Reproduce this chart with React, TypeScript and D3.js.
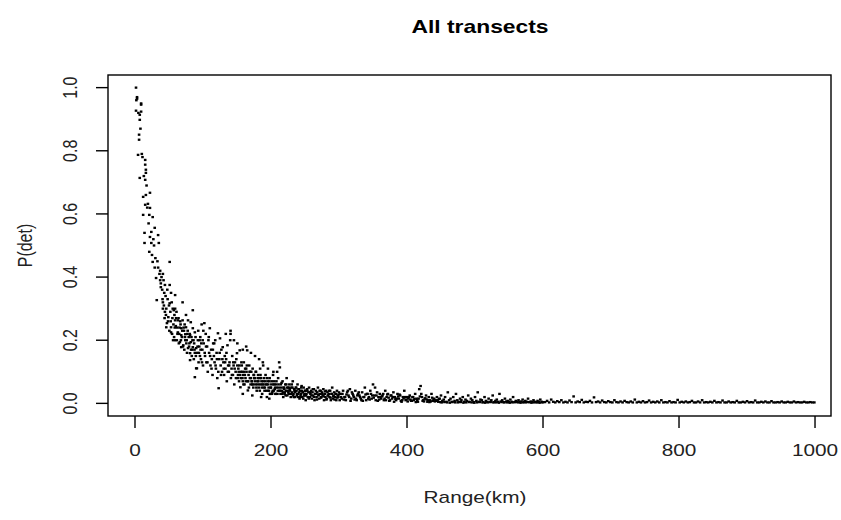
import React from "react";
import * as d3 from "d3";

// ---- data (range in km, detection probability) ----
const nearRange: [number, number][] = [
  [1.5,1.0],[1.5,0.927],[2,0.96],[3,0.97],[3,0.965],[4.5,0.787],[5,0.92],[6,0.851],[6,0.835],[7,0.914],
  [7,0.898],[7,0.714],[8,0.87],[9,0.95],[9,0.946],[9,0.924],[10,0.79],[11,0.78],[12,0.654],[12,0.597],
  [13,0.72],[14,0.54],[14,0.508],[15,0.771],[15,0.756],[15,0.708],[15,0.629],[16,0.74],[16,0.73],[16,0.66],
  [17,0.69],[18,0.62],[19,0.632],[20,0.57],[21,0.597],[21,0.48],[22,0.667],[22,0.619],[22,0.527],[24,0.543],
  [24,0.508],[25,0.47],[26,0.59],[26,0.448],[27,0.52],[28,0.5],[29,0.556],[29,0.43],[30,0.46],[31,0.397],
  [32,0.327],[33,0.45],[34,0.533],[34,0.43],[35,0.508],[36,0.41],[37,0.42],[37,0.39],[38,0.38],[38,0.368],
  [39,0.4],[40,0.36],[41,0.41],[41,0.32],[41,0.3],[42,0.39],[43,0.35],[44,0.375],[44,0.29],[45,0.34],
  [46,0.3],[46,0.241],[47,0.254],[48,0.33],[49,0.273],[50,0.31],[51,0.448],[51,0.375],[51,0.317],[52,0.29],
  [53,0.35],[53,0.241],[53,0.225],[54,0.32],[55,0.27],[56,0.2],[57,0.295],[58,0.28],[59,0.343],[59,0.3],
  [59,0.263],[59,0.2],[60,0.245],[61,0.29],[62,0.24],[63,0.263],[63,0.225],[64,0.27],[65,0.22],[66,0.194],
  [67,0.25],[68,0.238],[68,0.216],[68,0.178],[69,0.21],[70,0.32],[70,0.263],[71,0.184],[72,0.23],[73,0.25],
  [74,0.219],[74,0.2],[75,0.28],[75,0.241],[76,0.2],[77,0.22],[78,0.263],[78,0.175],[79,0.21],[80,0.19],
  [81,0.216],[81,0.159],[81,0.137],[82,0.257],[82,0.194],[83,0.21],[84,0.17],[85,0.295],[85,0.238],[85,0.178],
  [86,0.2],[87,0.19],[88,0.225],[88,0.16],[88,0.083],[89,0.21],[90,0.175],[90,0.111],[91,0.111],[92,0.18],
  [93,0.23],[94,0.16],[95,0.2],
];

const nearExtra: [number, number][] = [
  [40.5,0.33],[42.5,0.31],[43.5,0.27],[45.5,0.28],[47.5,0.36],[48.5,0.26],[50.5,0.23],[52.5,0.26],[54.5,0.22],[55.5,0.3],
  [56.5,0.25],[57.5,0.21],[58.5,0.24],[60.5,0.27],[61.5,0.2],[62.5,0.22],[64.5,0.19],[65.5,0.24],[66.5,0.26],[67.5,0.2],
  [69.5,0.23],[70.5,0.18],[71.5,0.24],[72.5,0.17],[73.5,0.21],[75.5,0.19],[76.5,0.16],[77.5,0.23],[79.5,0.18],[80.5,0.22],
  [82.5,0.17],[83.5,0.15],[84.5,0.2],[86.5,0.14],[87.5,0.17],[89.5,0.15],[91.5,0.16],[92.5,0.2],[93.5,0.13],[94.5,0.18],
  [95.5,0.15],[96.5,0.17],[97.5,0.19],[98.5,0.13],[99.5,0.2],
];

const bendRange: [number, number][] = [
  [96,0.21],[97,0.14],[98,0.25],[99,0.17],[100,0.12],[101,0.19],[102,0.254],[103,0.15],[104,0.22],[105,0.13],
  [106,0.18],[107,0.1],[108,0.2],[109,0.16],[110,0.238],[111,0.12],[112,0.17],[113,0.14],[114,0.09],[115,0.19],
  [116,0.15],[117,0.13],[118,0.2],[119,0.11],[120,0.16],[121,0.08],[122,0.222],[123,0.048],[124,0.14],[125,0.206],
  [126,0.12],[127,0.17],[128,0.1],[129,0.178],[130,0.13],[131,0.09],[132,0.15],[133,0.11],[134,0.14],[135,0.07],
  [136,0.184],[137,0.12],[138,0.1],[139,0.13],[140,0.2],[141,0.08],[142,0.11],[143,0.15],[144,0.09],[145,0.12],
  [146,0.06],[147,0.13],[148,0.1],[149,0.14],[150,0.159],[151,0.08],[152,0.11],[153,0.07],[154,0.168],[155,0.051],
  [156,0.1],[157,0.12],[158,0.08],[159,0.09],[160,0.13],[161,0.06],[162,0.11],[163,0.07],[164,0.1],[165,0.168],
  [166,0.041],[167,0.09],[168,0.12],[169,0.08],[170,0.06],[171,0.1],[172,0.07],[173,0.11],[174,0.05],[175,0.09],
  [176,0.08],[177,0.06],[178,0.1],[179,0.04],[180,0.07],[181,0.09],[182,0.05],[183,0.08],[184,0.11],[185,0.06],
  [186,0.07],[187,0.03],[188,0.13],[189,0.06],[190,0.08],[191,0.05],[192,0.09],[193,0.04],[194,0.02],[195,0.07],
  [196,0.06],[197,0.04],[198,0.08],[199,0.03],[200,0.05],[201,0.07],[202,0.035],[203,0.09],[204,0.04],[205,0.06],
  [206,0.05],[207,0.03],[208,0.07],[209,0.1],[210,0.04],[211,0.06],[212,0.13],[213,0.114],[214,0.03],[215,0.05],
  [216,0.04],[217,0.07],[218,0.02],[219,0.05],[220,0.03],[221,0.06],[222,0.04],[223,0.08],[224,0.025],[225,0.05],
  [226,0.03],[227,0.06],[228,0.04],[229,0.02],[230,0.05],[231,0.035],[232,0.07],[233,0.03],[234,0.045],[235,0.02],
  [236,0.04],[237,0.05],[238,0.025],[239,0.06],[240,0.03],[241,0.045],[242,0.015],[243,0.04],[244,0.03],[245,0.055],
  [246,0.02],[247,0.035],[248,0.05],[249,0.025],[250,0.04],[251,0.01],[252,0.03],[253,0.045],[254,0.02],[255,0.035],
  [256,0.05],[257,0.02],[258,0.03],[259,0.04],[260,0.015],[261,0.035],[262,0.025],[263,0.045],[264,0.01],[265,0.03],
  [266,0.04],[267,0.02],[268,0.035],[269,0.05],[270,0.025],[271,0.015],[272,0.03],[273,0.04],[274,0.02],[275,0.035],
  [276,0.025],[277,0.045],[278,0.01],[279,0.03],[280,0.02],[281,0.04],[282,0.015],[283,0.035],[284,0.025],[285,0.03],
  [286,0.02],[287,0.04],[288,0.01],[289,0.03],[290,0.05],[291,0.015],[292,0.025],[293,0.035],[294,0.02],[295,0.03],
  [296,0.01],[297,0.04],[298,0.025],[299,0.02],[300,0.035],
];

const bendExtra: [number, number][] = [
  [100.5,0.23],[102.5,0.16],[104.5,0.18],[106.5,0.13],[108.5,0.21],[110.5,0.15],[112.5,0.11],[114.5,0.17],
  [116.5,0.19],[118.5,0.12],[120.5,0.14],[122.5,0.1],[124.5,0.16],[126.5,0.09],[128.5,0.14],[130.5,0.11],
  [132.5,0.13],[134.5,0.16],[136.5,0.1],[138.5,0.12],[140.5,0.22],[142.5,0.09],[144.5,0.13],[146.5,0.11],
  [148.5,0.08],[150.5,0.12],[152.5,0.1],[154.5,0.09],[156.5,0.13],[158.5,0.07],[160.5,0.1],[162.5,0.08],
  [164.5,0.12],[166.5,0.07],[168.5,0.1],[170.5,0.08],[172.5,0.06],[174.5,0.09],[176.5,0.07],[178.5,0.05],
  [180.5,0.08],[182.5,0.06],[184.5,0.09],[186.5,0.05],[188.5,0.07],[190.5,0.04],[192.5,0.06],[194.5,0.08],
  [196.5,0.05],[198.5,0.03],[200.5,0.06],[202.5,0.04],[204.5,0.07],[206.5,0.03],[208.5,0.05],[210.5,0.08],
  [212.5,0.04],[214.5,0.06],[216.5,0.03],[218.5,0.05],[220.5,0.035],[222.5,0.06],[224.5,0.04],[226.5,0.05],
  [228.5,0.03],[230.5,0.06],[232.5,0.025],[234.5,0.04],[236.5,0.05],[238.5,0.03],[240.5,0.045],[242.5,0.02],
  [244.5,0.05],[246.5,0.035],[248.5,0.025],[250.5,0.04],
  [151.5,0.09],[153.5,0.12],[155.5,0.08],[157.5,0.1],[159.5,0.06],[161.5,0.09],[163.5,0.11],[165.5,0.07],
  [167.5,0.05],[169.5,0.1],[171.5,0.07],[173.5,0.06],[175.5,0.08],[177.5,0.1],[179.5,0.06],[181.5,0.07],
  [183.5,0.04],[185.5,0.08],[187.5,0.06],[189.5,0.05],[191.5,0.07],[193.5,0.06],[195.5,0.04],[197.5,0.07],
  [199.5,0.05],[201.5,0.03],[203.5,0.06],[205.5,0.045],[207.5,0.06],[209.5,0.03],[211.5,0.05],[213.5,0.04],
  [215.5,0.065],[217.5,0.035],[219.5,0.045],[221.5,0.025],[223.5,0.05],[225.5,0.035],[227.5,0.045],[229.5,0.03],
  [231.5,0.05],[233.5,0.02],[235.5,0.035],[237.5,0.04],[239.5,0.02],[241.5,0.035],[243.5,0.025],[245.5,0.04],
  [247.5,0.015],[249.5,0.03],
  [251.5,0.025],[253.5,0.04],[255.5,0.015],[257.5,0.035],[259.5,0.025],[261.5,0.045],[263.5,0.02],[265.5,0.03],
  [267.5,0.012],[269.5,0.028],[271.5,0.04],[273.5,0.018],[275.5,0.03],[277.5,0.022],[279.5,0.038],[281.5,0.012],
  [283.5,0.025],[285.5,0.04],[287.5,0.018],[289.5,0.03],[291.5,0.022],[293.5,0.012],[295.5,0.03],[297.5,0.018],
  [299.5,0.028],
  [133.5,0.22],[140.5,0.23],[145.5,0.2],[150.5,0.19],[158.5,0.17],[163.5,0.18],[170.5,0.16],[176.5,0.15],
  [182.5,0.14],[188.5,0.12],[195.5,0.11],[203.5,0.1],[158.5,0.03],[172.5,0.025],[185.5,0.02],[197.5,0.015],
];

const midRange: [number, number][] = [
  [302,0.03],[304,0.015],[306,0.04],[308,0.02],[310,0.01],[312,0.035],[314,0.025],[316,0.045],[318,0.015],[320,0.03],
  [322,0.02],[324,0.04],[326,0.01],[328,0.03],[330,0.025],[332,0.015],[334,0.035],[336,0.02],[338,0.05],[340,0.01],
  [342,0.03],[344,0.02],[346,0.04],[348,0.015],[350,0.06],[352,0.025],[354,0.01],[356,0.035],[358,0.02],[360,0.03],
  [362,0.015],[364,0.025],[366,0.01],[368,0.04],[370,0.02],[372,0.03],[374,0.008],[376,0.025],[378,0.015],[380,0.035],
  [382,0.02],[384,0.01],[386,0.03],[388,0.015],[390,0.025],[392,0.005],[394,0.02],[396,0.04],[398,0.01],[400,0.02],
  [402,0.015],[404,0.025],[406,0.008],[408,0.02],[410,0.01],[412,0.03],[414,0.015],[416,0.005],[418,0.045],[420,0.055],
  [422,0.02],[424,0.01],[426,0.015],[428,0.025],[430,0.005],[432,0.02],[434,0.01],[436,0.03],[438,0.008],[440,0.015],
  [442,0.01],[444,0.02],[446,0.005],[448,0.015],[450,0.025],[452,0.008],[454,0.012],[456,0.02],[458,0.005],[460,0.035],
  [462,0.01],[464,0.015],[466,0.005],[468,0.02],[470,0.008],[472,0.03],[474,0.01],[476,0.005],[478,0.015],[480,0.01],
  [482,0.02],[484,0.005],[486,0.012],[488,0.008],[490,0.025],[492,0.005],[494,0.015],[496,0.01],[498,0.004],[500,0.02],
  [502,0.008],[504,0.035],[506,0.005],[508,0.012],[510,0.01],[512,0.004],[514,0.02],[516,0.008],[518,0.005],[520,0.015],
  [522,0.005],[524,0.01],[526,0.025],[528,0.004],[530,0.008],[532,0.012],[534,0.005],[536,0.03],[538,0.006],[540,0.01],
  [542,0.004],[544,0.015],[546,0.006],[548,0.008],[550,0.004],[552,0.012],[554,0.005],[556,0.02],[558,0.004],[560,0.008],
  [562,0.005],[564,0.01],[566,0.004],[568,0.006],[570,0.012],[572,0.004],[574,0.008],[576,0.005],[578,0.015],[580,0.004],
  [582,0.006],[584,0.004],[586,0.01],[588,0.005],[590,0.004],[592,0.008],[594,0.004],[596,0.012],[598,0.005],[600,0.004],
];

const midExtra: [number, number][] = [
  [301,0.01],[305,0.03],[309,0.02],[313,0.04],[317,0.008],[321,0.025],[325,0.015],[329,0.035],[333,0.01],[337,0.02],
  [341,0.03],[345,0.012],[349,0.025],[353,0.05],[357,0.008],[361,0.02],[365,0.03],[369,0.01],[373,0.018],[377,0.025],
  [381,0.005],[385,0.015],[389,0.028],[393,0.01],[397,0.02],[401,0.006],[405,0.012],[409,0.02],[413,0.004],[417,0.015],
  [421,0.03],[425,0.006],[429,0.012],[433,0.004],[437,0.018],[441,0.006],[445,0.01],[449,0.004],
  [303,0.02],[307,0.012],[311,0.028],[315,0.02],[319,0.035],[323,0.012],[327,0.025],[331,0.02],[335,0.008],[339,0.028],
  [343,0.015],[347,0.03],[351,0.018],[355,0.025],[359,0.012],[363,0.022],[367,0.015],[371,0.028],[375,0.01],[379,0.02],
  [383,0.014],[387,0.022],[391,0.008],[395,0.016],[399,0.012],[403,0.02],[407,0.008],[411,0.014],[415,0.01],[419,0.022],
  [423,0.008],[427,0.016],[431,0.01],[435,0.006],[439,0.012],[443,0.008],[447,0.014],
  [451,0.003],[455,0.004],[459,0.003],[463,0.002],[467,0.004],[471,0.003],[475,0.003],[479,0.004],[483,0.002],[487,0.003],
  [491,0.004],[495,0.003],[499,0.002],[503,0.003],[507,0.004],[511,0.003],[515,0.002],[519,0.003],[523,0.004],[527,0.003],
  [531,0.003],[535,0.002],[539,0.004],[543,0.003],[547,0.003],[551,0.002],[555,0.003],[559,0.004],[563,0.003],[567,0.002],
  [571,0.003],[575,0.003],[579,0.004],[583,0.002],[587,0.003],[591,0.003],[595,0.002],[599,0.003],
];

const farRange: [number, number][] = [
  [603,0.004],[606,0.008],[609,0.003],[612,0.012],[615,0.005],[618,0.003],[621,0.007],[624,0.004],[627,0.01],[630,0.003],
  [633,0.005],[636,0.003],[639,0.009],[642,0.004],[645,0.022],[648,0.003],[651,0.006],[654,0.004],[657,0.011],[660,0.003],
  [663,0.005],[666,0.004],[669,0.008],[672,0.003],[675,0.019],[678,0.004],[681,0.006],[684,0.003],[687,0.009],[690,0.004],
  [693,0.003],[696,0.007],[699,0.004],[702,0.003],[705,0.01],[708,0.004],[711,0.003],[714,0.006],[717,0.003],[720,0.008],
  [723,0.004],[726,0.003],[729,0.006],[732,0.003],[735,0.012],[738,0.003],[741,0.005],[744,0.003],[747,0.007],[750,0.003],
  [753,0.004],[756,0.009],[759,0.003],[762,0.005],[765,0.003],[768,0.006],[771,0.003],[774,0.01],[777,0.003],[780,0.004],
  [783,0.003],[786,0.007],[789,0.003],[792,0.004],[795,0.003],[798,0.011],[801,0.003],[804,0.005],[807,0.003],[810,0.006],
  [813,0.003],[816,0.004],[819,0.008],[822,0.003],[825,0.003],[828,0.006],[831,0.003],[834,0.01],[837,0.003],[840,0.004],
  [843,0.003],[846,0.005],[849,0.003],[852,0.008],[855,0.003],[858,0.004],[861,0.003],[864,0.009],[867,0.003],[870,0.003],
  [873,0.006],[876,0.003],[879,0.004],[882,0.003],[885,0.008],[888,0.003],[891,0.003],[894,0.005],[897,0.003],[900,0.007],
  [903,0.003],[906,0.004],[909,0.003],[912,0.009],[915,0.003],[918,0.003],[921,0.005],[924,0.003],[927,0.006],[930,0.003],
  [933,0.003],[936,0.007],[939,0.003],[942,0.003],[945,0.004],[948,0.003],[951,0.006],[954,0.003],[957,0.003],[960,0.005],
  [963,0.003],[966,0.003],[969,0.006],[972,0.003],[975,0.004],[978,0.003],[981,0.003],[984,0.005],[987,0.003],[990,0.003],
  [993,0.004],[996,0.003],[999,0.003],
];

const xTicks = [0, 200, 400, 600, 800, 1000];
const yTicks = [0.0, 0.2, 0.4, 0.6, 0.8, 1.0];

const title = "All transects";
const xLabel = "Range(km)";
const yLabel = "P(det)";

// ---- layout ----
const W = 841;
const H = 520;
const plot = { left: 108, right: 831, top: 75, bottom: 416 };
const FONT = "'Liberation Sans', Arial, sans-serif";
const SX = 1.3; // horizontal stretch of the reference's lettering

export default function App() {
  const x = d3.scaleLinear().domain([-39.7, 1023.5]).range([plot.left, plot.right]);
  const y = d3.scaleLinear().domain([-0.04, 1.04]).range([plot.bottom, plot.top]);
  const points = [...nearRange, ...nearExtra, ...bendRange, ...bendExtra, ...midRange, ...midExtra, ...farRange];
  const dw = 2.6;
  const dh = 2.3;

  return (
    <div style={{ position: "fixed", left: 0, top: 0, background: "#fff" }}>
      <svg width={W} height={H} style={{ display: "block" }}>
        <rect x={0} y={0} width={W} height={H} fill="#fff" />
        <text transform={`translate(480,33) scale(${1.27},1)`} textAnchor="middle" fontFamily={FONT}
          fontWeight="bold" fontSize={18} fill="#000">{title}</text>

        {points.map(([k, p], i) => (
          <rect key={i} x={x(k) - dw / 2} y={y(p) - dh / 2} width={dw} height={dh} fill="#000" />
        ))}

        <rect x={plot.left} y={plot.top} width={plot.right - plot.left} height={plot.bottom - plot.top}
          fill="none" stroke="#000" strokeWidth={1.4} />

        {xTicks.map((t) => (
          <g key={"x" + t}>
            <line x1={x(t)} x2={x(t)} y1={plot.bottom} y2={plot.bottom + 12} stroke="#000" strokeWidth={1.4} />
            <text transform={`translate(${x(t)},456) scale(${SX},1)`} textAnchor="middle" fontFamily={FONT}
              fontSize={16} fill="#222">{t}</text>
          </g>
        ))}
        {yTicks.map((t) => (
          <g key={"y" + t}>
            <line x1={plot.left - 12} x2={plot.left} y1={y(t)} y2={y(t)} stroke="#000" strokeWidth={1.4} />
            <text transform={`translate(77,${y(t)}) scale(${SX},1) rotate(-90)`} textAnchor="middle"
              fontFamily={FONT} fontSize={16} fill="#222">{t.toFixed(1)}</text>
          </g>
        ))}

        <text transform={`translate(475,503) scale(${SX},1)`} textAnchor="middle" fontFamily={FONT}
          fontSize={16} fill="#222">{xLabel}</text>
        <text transform={`translate(32,${(plot.top + plot.bottom) / 2}) scale(${SX},1) rotate(-90)`}
          textAnchor="middle" fontFamily={FONT} fontSize={16} fill="#222">{yLabel}</text>
      </svg>
    </div>
  );
}
